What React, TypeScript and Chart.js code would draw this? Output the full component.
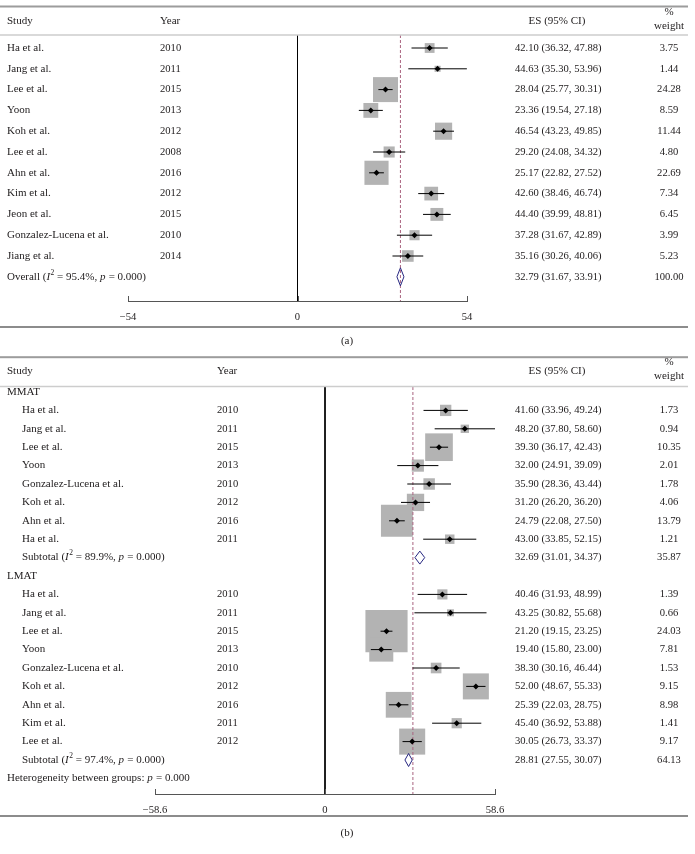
import React, { useEffect, useRef } from "react";
import { Chart, registerables } from "chart.js";

Chart.register(...registerables);

// ---------------- Panel (a) data ----------------
const A_STUDIES = ["Ha et al.", "Jang et al.", "Lee et al.", "Yoon", "Koh et al.", "Lee et al.", "Ahn et al.", "Kim et al.", "Jeon et al.", "Gonzalez-Lucena et al.", "Jiang et al."];
const A_YEARS = ["2010", "2011", "2015", "2013", "2012", "2008", "2016", "2012", "2015", "2010", "2014"];
const A_ES = [42.10, 44.63, 28.04, 23.36, 46.54, 29.20, 25.17, 42.60, 44.40, 37.28, 35.16];
const A_LO = [36.32, 35.30, 25.77, 19.54, 43.23, 24.08, 22.82, 38.46, 39.99, 31.67, 30.26];
const A_HI = [47.88, 53.96, 30.31, 27.18, 49.85, 34.32, 27.52, 46.74, 48.81, 42.89, 40.06];
const A_WEIGHT = [3.75, 1.44, 24.28, 8.59, 11.44, 4.80, 22.69, 7.34, 6.45, 3.99, 5.23];
const A_OVERALL_ES = 32.79;
const A_OVERALL_LO = 31.67;
const A_OVERALL_HI = 33.91;
const A_OVERALL_W = 100.0;
const A_OVERALL_I2 = "95.4%";
const A_OVERALL_P = "0.000";
const A_TICKS = [-54, 0, 54];

// ---------------- Panel (b) data ----------------
const B_GROUPS = ["MMAT", "LMAT"];
const B_MMAT_STUDIES = ["Ha et al.", "Jang et al.", "Lee et al.", "Yoon", "Gonzalez-Lucena et al.", "Koh et al.", "Ahn et al.", "Ha et al."];
const B_MMAT_YEARS = ["2010", "2011", "2015", "2013", "2010", "2012", "2016", "2011"];
const B_MMAT_ES = [41.60, 48.20, 39.30, 32.00, 35.90, 31.20, 24.79, 43.00];
const B_MMAT_LO = [33.96, 37.80, 36.17, 24.91, 28.36, 26.20, 22.08, 33.85];
const B_MMAT_HI = [49.24, 58.60, 42.43, 39.09, 43.44, 36.20, 27.50, 52.15];
const B_MMAT_W = [1.73, 0.94, 10.35, 2.01, 1.78, 4.06, 13.79, 1.21];
const B_LMAT_STUDIES = ["Ha et al.", "Jang et al.", "Lee et al.", "Yoon", "Gonzalez-Lucena et al.", "Koh et al.", "Ahn et al.", "Kim et al.", "Lee et al."];
const B_LMAT_YEARS = ["2010", "2011", "2015", "2013", "2010", "2012", "2016", "2011", "2012"];
const B_LMAT_ES = [40.46, 43.25, 21.20, 19.40, 38.30, 52.00, 25.39, 45.40, 30.05];
const B_LMAT_LO = [31.93, 30.82, 19.15, 15.80, 30.16, 48.67, 22.03, 36.92, 26.73];
const B_LMAT_HI = [48.99, 55.68, 23.25, 23.00, 46.44, 55.33, 28.75, 53.88, 33.37];
const B_LMAT_W = [1.39, 0.66, 24.03, 7.81, 1.53, 9.15, 8.98, 1.41, 9.17];
const B_SUB_ES = [32.69, 28.81];
const B_SUB_LO = [31.01, 27.55];
const B_SUB_HI = [34.37, 30.07];
const B_SUB_W = [35.87, 64.13];
const B_SUB_I2 = ["89.9%", "97.4%"];
const B_SUB_P = ["0.000", "0.000"];
const B_HET_P = "0.000";
const B_OVERALL_ES = 30.3; // dashed reference line (estimated)
const B_TICKS = [-58.6, 0, 58.6];

// ---------------- styles ----------------
const FONT = "'Liberation Serif', 'DejaVu Serif', serif";
const TEXT = "#1e1b1c";
const BOX = "#b3b3b3";
const NAVY = "#262680";
const DASH = "#a9637f";
const AXIS = "#555555";
const RULE_W = 688;
const W = 695;
const AXIS_H = 26;

type Seg = [string, string];
type Row = {
  kind: "group" | "study" | "pooled" | "note";
  label: Seg[];
  indent: boolean;
  year?: string;
  es?: number;
  lo?: number;
  hi?: number;
  w?: number;
};

function pooledLabel(prefix: string, i2: string, p: string): Seg[] {
  return [[prefix + " (", ""], ["I", "i"], ["2", "s"], [` = ${i2}, `, ""], ["p", "i"], [` = ${p})`, ""]];
}

function rowsA(): Row[] {
  const rows: Row[] = A_STUDIES.map((s, i) => ({
    kind: "study", label: [[s, ""]], indent: false, year: A_YEARS[i],
    es: A_ES[i], lo: A_LO[i], hi: A_HI[i], w: A_WEIGHT[i],
  }));
  rows.push({
    kind: "pooled", label: pooledLabel("Overall", A_OVERALL_I2, A_OVERALL_P), indent: false,
    es: A_OVERALL_ES, lo: A_OVERALL_LO, hi: A_OVERALL_HI, w: A_OVERALL_W,
  });
  return rows;
}

function rowsB(): Row[] {
  const groups = [
    [B_MMAT_STUDIES, B_MMAT_YEARS, B_MMAT_ES, B_MMAT_LO, B_MMAT_HI, B_MMAT_W],
    [B_LMAT_STUDIES, B_LMAT_YEARS, B_LMAT_ES, B_LMAT_LO, B_LMAT_HI, B_LMAT_W],
  ] as any[];
  const rows: Row[] = [];
  groups.forEach((g, gi) => {
    rows.push({ kind: "group", label: [[B_GROUPS[gi], ""]], indent: false });
    (g[0] as string[]).forEach((s, i) => {
      rows.push({
        kind: "study", label: [[s, ""]], indent: true, year: g[1][i],
        es: g[2][i], lo: g[3][i], hi: g[4][i], w: g[5][i],
      });
    });
    rows.push({
      kind: "pooled", label: pooledLabel("Subtotal", B_SUB_I2[gi], B_SUB_P[gi]), indent: true,
      es: B_SUB_ES[gi], lo: B_SUB_LO[gi], hi: B_SUB_HI[gi], w: B_SUB_W[gi],
    });
  });
  rows.push({ kind: "note", label: [["Heterogeneity between groups: ", ""], ["p", "i"], [` = ${B_HET_P}`, ""]], indent: false });
  return rows;
}

type Layout = {
  height: number; chartTop: number; chartBottom: number; chartLeft: number; chartRight: number;
  row0: number; rowStep: number; boxScale: number; diamondHalf: number;
  studyX: number; indentX: number; yearX: number; esX: number; wX: number;
  topRule: number; headerY: number; pctY: number; weightY: number; headerRule: number;
  bottomRule: number; captionY: number; caption: string;
};

const LAYOUT_A: Layout = {
  height: 356, chartTop: 35, chartBottom: 301, chartLeft: 128, chartRight: 467,
  row0: 48, rowStep: 20.8, boxScale: 5.07, diamondHalf: 9,
  studyX: 7, indentX: 7, yearX: 160, esX: 515, wX: 669,
  topRule: 6.5, headerY: 21, pctY: 12, weightY: 26, headerRule: 35,
  bottomRule: 327, captionY: 341, caption: "(a)",
};

const LAYOUT_B: Layout = {
  height: 498, chartTop: 31, chartBottom: 438, chartLeft: 155, chartRight: 495,
  row0: 36, rowStep: 18.4, boxScale: 8.6, diamondHalf: 6.5,
  studyX: 7, indentX: 22, yearX: 217, esX: 515, wX: 669,
  topRule: 1.2, headerY: 15, pctY: 6, weightY: 20, headerRule: 30.5,
  bottomRule: 460, captionY: 477, caption: "(b)",
};

const LABEL_SIZE = 11;
const NUM_SIZE = 10.6;

function drawRich(ctx: CanvasRenderingContext2D, x: number, y: number, segs: Seg[], size: number) {
  let cx = x;
  ctx.textAlign = "left";
  for (const [t, st] of segs) {
    const fs = st === "s" ? size * 0.68 : size;
    ctx.font = `${st === "i" ? "italic " : ""}${fs}px ${FONT}`;
    const dy = st === "s" ? -size * 0.38 : 0;
    ctx.fillText(t, cx, y + dy);
    cx += ctx.measureText(t).width + (st === "i" ? 0.5 : 0);
  }
}

function fmtTick(v: number) {
  if (v === 0) return "0";
  return (v < 0 ? "\u2212" : "") + String(Math.abs(v));
}

function buildConfig(L: Layout, rows: Row[], ticks: number[], refLine: number): any {
  const xMax = ticks[ticks.length - 1];
  const xMin = ticks[0];
  const yMin = (L.chartTop - L.row0) / L.rowStep;
  const yMax = (L.chartBottom - L.row0) / L.rowStep;
  const dh = L.diamondHalf / L.rowStep;

  const idx = rows.map((r, i) => ({ ...r, i }));
  const studies = idx.filter((r) => r.kind === "study");
  const pooled = idx.filter((r) => r.kind === "pooled");

  const boxR = studies.map((r) => (L.boxScale * Math.sqrt(r.w as number)) / Math.SQRT2);

  const lineDs = (data: any[], color: string, order: number, dash?: number[]) => ({
    data, showLine: true, pointRadius: 0, pointHoverRadius: 0, borderColor: color,
    borderWidth: 1, borderDash: dash || [], fill: false, tension: 0, order,
  });

  const datasets: any[] = [
    {
      data: studies.map((r) => ({ x: r.es, y: r.i })),
      pointStyle: "rect", pointRadius: boxR, pointHoverRadius: boxR,
      backgroundColor: BOX, borderWidth: 0, pointBorderWidth: 0, order: 6,
    },
    lineDs([{ x: 0, y: yMin }, { x: 0, y: yMax }], "#000000", 5),
    lineDs([{ x: refLine, y: yMin }, { x: refLine, y: yMax }], DASH, 5, [3, 2]),
    ...studies.map((r) => lineDs([{ x: r.lo, y: r.i }, { x: r.hi, y: r.i }], "#000000", 3)),
    {
      data: studies.map((r) => ({ x: r.es, y: r.i })),
      pointStyle: "rectRot", pointRadius: 3, pointHoverRadius: 3,
      backgroundColor: "#000000", borderWidth: 0, pointBorderWidth: 0, order: 1,
    },
    ...pooled.map((r) =>
      lineDs(
        [
          { x: r.lo, y: r.i }, { x: r.es, y: r.i - dh }, { x: r.hi, y: r.i },
          { x: r.es, y: r.i + dh }, { x: r.lo, y: r.i },
        ],
        NAVY, 1
      )
    ),
  ];

  const textPlugin = {
    id: "forestText",
    afterDraw(chart: any) {
      const ctx: CanvasRenderingContext2D = chart.ctx;
      const ys = chart.scales.y;
      const xs = chart.scales.x;
      ctx.save();
      // rules
      ctx.fillStyle = "#9c9c9c";
      ctx.fillRect(0, L.topRule - 1, RULE_W, 2);
      ctx.fillStyle = "#cdcdcd";
      ctx.fillRect(0, L.headerRule - 0.75, RULE_W, 1.5);
      ctx.fillStyle = "#1a1a1a";
      ctx.fillRect(0, L.bottomRule - 0.5, RULE_W, 1);

      // axis end ticks (pointing upward)
      ctx.strokeStyle = AXIS;
      ctx.lineWidth = 1;
      const ab = chart.chartArea.bottom;
      for (const t of xs.ticks) {
        const px = Math.round(xs.getPixelForValue(t.value)) + 0.5;
        ctx.beginPath();
        ctx.moveTo(px, ab);
        ctx.lineTo(px, ab - 5);
        ctx.stroke();
      }

      ctx.fillStyle = TEXT;
      ctx.textBaseline = "middle";
      // headers
      ctx.font = `${LABEL_SIZE}px ${FONT}`;
      ctx.textAlign = "left";
      ctx.fillText("Study", L.studyX, L.headerY);
      ctx.fillText("Year", L.yearX, L.headerY);
      ctx.textAlign = "center";
      ctx.fillText("ES (95% CI)", L.esX + 42, L.headerY);
      ctx.fillText("%", L.wX, L.pctY);
      ctx.fillText("weight", L.wX, L.weightY);

      // rows
      rows.forEach((r, i) => {
        const y = ys.getPixelForValue(i);
        ctx.fillStyle = TEXT;
        drawRich(ctx, r.indent ? L.indentX : L.studyX, y, r.label, LABEL_SIZE);
        ctx.font = `${NUM_SIZE}px ${FONT}`;
        if (r.year) {
          ctx.textAlign = "left";
          ctx.fillText(r.year, L.yearX, y);
        }
        if (r.es != null) {
          ctx.textAlign = "left";
          ctx.fillText(`${r.es.toFixed(2)} (${(r.lo as number).toFixed(2)}, ${(r.hi as number).toFixed(2)})`, L.esX, y);
          ctx.textAlign = "center";
          ctx.fillText((r.w as number).toFixed(2), L.wX, y);
        }
      });

      // caption
      ctx.font = `${LABEL_SIZE}px ${FONT}`;
      ctx.textAlign = "center";
      ctx.fillText(L.caption, 347, L.captionY);
      ctx.restore();
    },
  };

  return {
    type: "scatter",
    data: { datasets },
    options: {
      animation: false,
      responsive: false,
      events: [],
      layout: {
        padding: {
          left: L.chartLeft,
          right: W - L.chartRight,
          top: L.chartTop,
          bottom: L.height - L.chartBottom - AXIS_H,
        },
      },
      plugins: { legend: { display: false }, tooltip: { enabled: false } },
      scales: {
        x: {
          type: "linear",
          min: xMin,
          max: xMax,
          afterBuildTicks: (axis: any) => {
            axis.ticks = ticks.map((v) => ({ value: v }));
          },
          afterFit: (axis: any) => {
            axis.height = AXIS_H;
          },
          grid: { display: false, drawTicks: false },
          border: { display: true, color: AXIS, width: 1 },
          ticks: {
            padding: 10,
            color: TEXT,
            font: { family: FONT, size: NUM_SIZE },
            autoSkip: false,
            maxRotation: 0,
            callback: (v: any) => fmtTick(Number(v)),
          },
        },
        y: {
          type: "linear",
          display: false,
          reverse: true,
          min: yMin,
          max: yMax,
        },
      },
    },
    plugins: [textPlugin],
  };
}

function ForestPanel({ layout, rows, ticks, refLine }: { layout: Layout; rows: Row[]; ticks: number[]; refLine: number }) {
  const ref = useRef<HTMLCanvasElement | null>(null);
  useEffect(() => {
    const chart = new Chart(ref.current as HTMLCanvasElement, buildConfig(layout, rows, ticks, refLine));
    return () => chart.destroy();
  }, []);
  return (
    <canvas
      ref={ref}
      width={W}
      height={layout.height}
      style={{ display: "block", width: W, height: layout.height }}
    />
  );
}

export default function App() {
  return (
    <div style={{ width: W, background: "#ffffff" }}>
      <style>{"body{margin:0;background:#ffffff;}"}</style>
      <ForestPanel layout={LAYOUT_A} rows={rowsA()} ticks={A_TICKS} refLine={A_OVERALL_ES} />
      <ForestPanel layout={LAYOUT_B} rows={rowsB()} ticks={B_TICKS} refLine={B_OVERALL_ES} />
    </div>
  );
}
